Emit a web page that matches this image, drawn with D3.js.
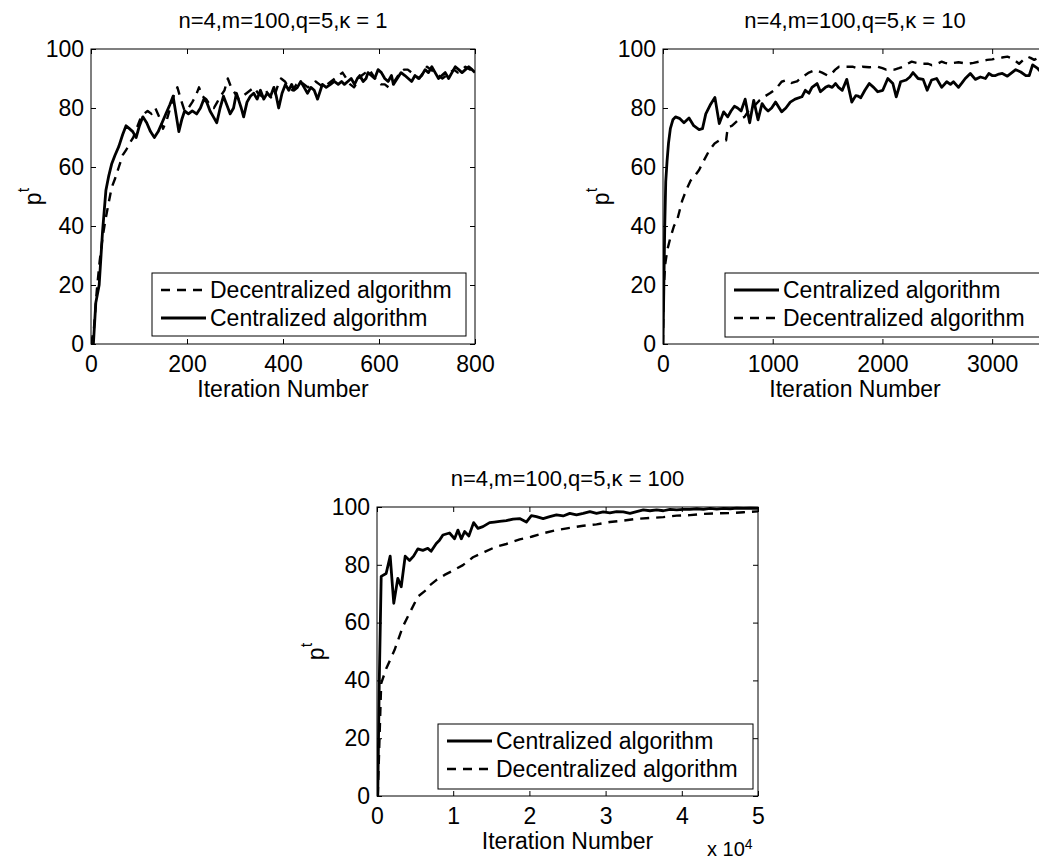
<!DOCTYPE html>
<html>
<head>
<meta charset="utf-8">
<script src="https://cdn.jsdelivr.net/npm/d3@7"></script>
<style>
  body { margin: 0; background: #fff; }
  .tick line { stroke: #000; }
  text { font-family: "Liberation Sans", Arial, Helvetica, sans-serif; fill: #000; }
</style>
</head>
<body>
<div class="chart"></div>
<script>
// ---- data ----
// kappa = 1
var k1CentIter = [5,10,17,24,31,37,43,50,58,66,73,80,87,94,101,108,116,124,132,140,148,156,164,171,177,183,189,195,203,211,220,228,235,241,248,255,262,269,276,283,290,297,303,307,313,318,325,332,339,346,353,360,367,374,381,386,391,398,405,412,418,423,430,437,444,451,458,465,472,478,482,490,499,507,515,522,528,535,542,549,555,560,567,573,577,584,591,598,605,612,619,626,630,638,646,654,661,668,675,682,689,696,703,710,717,724,731,738,745,752,759,766,773,780,787,794,800];
var k1Central = [0,14,20,38,52,57,61,64,67,71,74,73,72,70,74,77,75,72,70,72,75,78,81,84,78,72,76,79,78,79,78,80,83,82,79,77,75,80,84,81,78,80,85,83,80,77,82,84,85,83,86,83,85,84,87,84,80,85,88,86,88,86,87,89,87,85,87,86,83,86,88,87,88,89,88,89,88,89,90,88,90,91,89,90,92,91,90,93,92,90,89,91,88,90,92,91,90,89,91,90,91,93,92,94,92,90,91,92,90,92,94,93,92,93,94,93,92];
var k1DecIter = [0,6,12,18,24,30,37,43,50,58,66,74,80,88,95,102,110,118,126,134,142,150,158,165,172,180,187,195,203,211,218,225,232,240,248,256,263,270,278,285,292,300,308,316,324,332,340,348,356,364,372,380,388,396,404,412,420,428,436,444,452,460,468,476,484,492,500,508,516,524,532,540,548,556,564,572,580,588,596,604,612,620,628,636,644,652,660,668,676,684,692,700,708,716,724,732,740,748,756,764,772,780,790,800];
var k1Decentral = [0,5,18,28,36,42,48,53,56,60,64,66,68,70,73,76,78,79,78,80,77,73,76,80,84,87,83,79,80,82,84,87,84,83,81,80,82,84,86,90,87,85,83,84,85,86,87,85,84,86,84,83,87,90,89,87,86,88,89,88,87,88,89,88,87,88,89,90,91,92,90,88,87,89,91,92,93,91,89,88,88,87,88,90,92,93,93,92,91,90,92,94,93,92,91,90,91,92,93,92,93,94,93,94];

// kappa = 10
var k10CentIter = [0,8,16,25,37,50,67,90,114,150,191,237,280,329,360,390,430,473,513,553,590,620,651,680,712,749,790,827,866,903,930,958,990,1026,1081,1120,1160,1204,1266,1297,1330,1358,1404,1435,1481,1510,1542,1573,1600,1634,1675,1721,1757,1780,1803,1840,1880,1920,1957,2003,2049,2095,2126,2166,2217,2250,2279,2325,2371,2408,2448,2494,2540,2586,2620,2647,2693,2725,2755,2801,2847,2893,2939,2970,3000,3031,3062,3093,3139,3180,3215,3261,3307,3338,3369,3415,3450,3500];
var k10Central = [0,20,40,55,62,68,73,76,77,76.5,75,76.6,74,72.7,73,78,81,83.6,74.7,78.7,77,79,80.6,80,79,83,75,82.6,76,81.5,80,79,80,82,78.7,80,82,83,83.8,86,85,87,88.3,85.5,87,87.5,87,88.3,87,86,89.7,82,84.2,84,83.5,86,88.3,87,85.5,86,90,88.3,83.8,88.9,89.5,90.5,92,90,89.7,86,89.5,90,87,88.9,88,88.9,87,88.5,90,91.7,89.7,90.5,90,91.7,91,91,91.5,91.7,90.8,92,93,92.2,91,91,94.6,93.4,92,93];
var k10DecIter = [0,5,20,40,67,100,129,150,175,210,252,290,329,370,421,470,513,550,575,590,630,682,743,805,840,880,930,974,1030,1081,1130,1173,1220,1270,1330,1389,1450,1500,1527,1570,1604,1660,1727,1770,1819,1880,1957,2000,2034,2070,2110,2150,2187,2230,2267,2310,2356,2417,2450,2479,2510,2540,2570,2601,2650,2693,2740,2785,2830,2878,2920,2954,3000,3046,3090,3139,3170,3200,3246,3290,3323,3350,3384,3420,3450,3500];
var k10Decentral = [0,18,27,32,36,40,42,45,48.6,52,55.4,57,59,62,65.6,68,69,69,69,73.4,74,75.8,77,80.4,81,82.6,84,85,86.5,88.9,89.5,88.5,89,90.5,92,92.9,92,91,91.2,93,94,94,94,93.5,94,93.8,94,93.5,93,93.2,93,93.5,94,95,95.7,95.3,95,95,94.5,94.6,95.2,95.7,95.3,95,95.3,95.5,95.2,95,95.3,95.7,96,96.3,96.5,96.9,97.1,97.4,97,96.3,95,96.5,97.4,97,96.3,97,97,97];

// kappa = 100
var k100CentIter = [100,300,550,1200,1730,2200,2730,3180,3700,4270,4800,5360,6020,6670,7100,7780,8200,8650,9520,10180,10620,11060,11500,12060,12680,13250,13900,14780,15400,16090,16970,17850,18720,19600,20260,20920,21800,22670,23550,24430,25300,26180,27060,27940,28810,29690,30560,31440,32320,33200,34070,34950,35820,36700,37580,38450,39330,40200,41080,41960,42840,43710,44590,45470,46340,47220,48100,49000,50000];
var k100Central = [0,40,76,77,83,66.7,75.3,72.4,83,81.5,83,85.5,85,85.7,84.7,87.4,88.5,90.3,91,89,92,89,91.5,90,94.6,92.6,93.2,94.6,94.8,95,95.3,95.8,96,94.8,97,96.7,96,96.7,97.3,96.9,97.8,97.3,97.8,98.4,97.8,98.3,98,98.4,98.3,97.8,98.4,99,98.7,99,98.7,99.2,99,99.2,99.2,99.4,99.2,99.5,99.3,99.5,99.4,99.6,99.5,99.6,99.5];
var k100DecIter = [100,550,1200,2300,3390,4490,5370,6470,6690,7780,8870,9960,11280,12590,14130,15660,16980,18730,20260,21800,23550,25300,27060,28810,30560,32320,34070,35820,37580,39330,41080,42840,44590,46340,48100,50000];
var k100Decentral = [0,39,44,50.5,58.6,64.4,69,71.3,72.4,74.7,76.5,78,79.9,82.6,84.5,86.3,87.2,88.8,89.7,90.9,92,92.8,93.5,94,94.8,95.3,95.9,96.2,96.5,97,97.2,97.6,97.8,97.9,98.2,98.5];

var yTicks = [0, 20, 40, 60, 80, 100];

// ---- page ----
var svgWidth = 1039;
var svgHeight = 863;

var svg = d3.select(".chart")
  .append("svg")
  .attr("width", svgWidth)
  .attr("height", svgHeight);

svg.append("rect")
  .attr("width", svgWidth)
  .attr("height", svgHeight)
  .attr("fill", "#fff");

var panels = [
  {
    id: "p1", left: 91, right: 475, top: 49, bottom: 344,
    xMax: 800, xTicks: [0, 200, 400, 600, 800], fmt: d => d,
    title: "n=4,m=100,q=5,\u03ba = 1",
    series: [
      { name: "Decentralized algorithm", x: k1DecIter, y: k1Decentral, dash: true },
      { name: "Centralized algorithm", x: k1CentIter, y: k1Central, dash: false }
    ],
    legend: { x: 152, y: 273, w: 314, h: 63 },
    ylabelX: 33
  },
  {
    id: "p2", left: 663, right: 1047, top: 49, bottom: 344,
    xMax: 3500, xTicks: [0, 1000, 2000, 3000], fmt: d => d,
    title: "n=4,m=100,q=5,\u03ba = 10",
    series: [
      { name: "Centralized algorithm", x: k10CentIter, y: k10Central, dash: false },
      { name: "Decentralized algorithm", x: k10DecIter, y: k10Decentral, dash: true }
    ],
    legend: { x: 725, y: 273, w: 315, h: 64 },
    ylabelX: 601
  },
  {
    id: "p3", left: 377, right: 758, top: 507, bottom: 796,
    xMax: 50000, xTicks: [0, 10000, 20000, 30000, 40000, 50000], fmt: d => d / 10000,
    title: "n=4,m=100,q=5,\u03ba = 100",
    series: [
      { name: "Centralized algorithm", x: k100CentIter, y: k100Central, dash: false },
      { name: "Decentralized algorithm", x: k100DecIter, y: k100Decentral, dash: true }
    ],
    legend: { x: 438, y: 724, w: 315, h: 65 },
    ylabelX: 316
  }
];

function drawPanel(p) {
  var g = svg.append("g").attr("id", p.id);

  var xScale = d3.scaleLinear().domain([0, p.xMax]).range([p.left, p.right]);
  var yScale = d3.scaleLinear().domain([0, 100]).range([p.bottom, p.top]);

  // clip for the curves
  g.append("clipPath")
    .attr("id", "clip-" + p.id)
    .append("rect")
    .attr("x", p.left)
    .attr("y", p.top - 2)
    .attr("width", p.right - p.left)
    .attr("height", p.bottom - p.top + 2);

  // curves
  var line = d3.line()
    .x(d => xScale(d[0]))
    .y(d => yScale(d[1]));

  p.series.forEach(function(s) {
    var pts = s.x.map((v, i) => [v, s.y[i]]);
    g.append("path")
      .datum(pts)
      .attr("clip-path", "url(#clip-" + p.id + ")")
      .attr("fill", "none")
      .attr("stroke", "#000")
      .attr("stroke-width", s.dash ? 2.4 : 2.8)
      .attr("stroke-linejoin", "round")
      .attr("stroke-dasharray", s.dash ? "9,7" : null)
      .attr("d", line);
  });

  // axes, ticks pointing in
  var bottomAxis = d3.axisBottom(xScale).tickValues(p.xTicks).tickFormat(p.fmt)
    .tickSizeInner(-5).tickSizeOuter(0).tickPadding(12);
  var topAxis = d3.axisTop(xScale).tickValues(p.xTicks).tickFormat("")
    .tickSizeInner(-5).tickSizeOuter(0);
  var leftAxis = d3.axisLeft(yScale).tickValues(yTicks)
    .tickSizeInner(-5).tickSizeOuter(0).tickPadding(7);
  var rightAxis = d3.axisRight(yScale).tickValues(yTicks).tickFormat("")
    .tickSizeInner(-5).tickSizeOuter(0);

  g.append("g").attr("transform", `translate(0, ${p.bottom})`).call(bottomAxis);
  g.append("g").attr("transform", `translate(0, ${p.top})`).call(topAxis);
  g.append("g").attr("transform", `translate(${p.left}, 0)`).call(leftAxis);
  g.append("g").attr("transform", `translate(${p.right}, 0)`).call(rightAxis);

  g.selectAll(".domain").remove();
  g.selectAll(".tick text")
    .attr("font-family", null)
    .style("font-size", "23px");

  // axes box
  g.append("rect")
    .attr("x", p.left)
    .attr("y", p.top)
    .attr("width", p.right - p.left)
    .attr("height", p.bottom - p.top)
    .attr("fill", "none")
    .attr("stroke", "#000")
    .attr("stroke-width", 1);

  // title
  g.append("text")
    .attr("x", (p.left + p.right) / 2)
    .attr("y", p.top - 21)
    .attr("text-anchor", "middle")
    .style("font-size", "22px")
    .text(p.title);

  // x label
  g.append("text")
    .attr("x", (p.left + p.right) / 2)
    .attr("y", p.bottom + 53)
    .attr("text-anchor", "middle")
    .style("font-size", "23px")
    .text("Iteration Number");

  // y label p^t
  var yl = g.append("text")
    .attr("transform", `translate(${p.ylabelX + 8}, ${(p.top + p.bottom) / 2}) rotate(-90)`)
    .attr("text-anchor", "middle")
    .style("font-size", "23px");
  yl.append("tspan").text("p");
  yl.append("tspan").attr("dy", "-0.75em").style("font-size", "16px").text("t");

  // legend
  var lg = p.legend;
  g.append("rect")
    .attr("x", lg.x)
    .attr("y", lg.y)
    .attr("width", lg.w)
    .attr("height", lg.h)
    .attr("fill", "#fff")
    .attr("stroke", "#000")
    .attr("stroke-width", 1);

  p.series.forEach(function(s, i) {
    var ry = lg.y + 17 + i * 28;
    g.append("line")
      .attr("x1", lg.x + 9)
      .attr("x2", lg.x + 54)
      .attr("y1", ry)
      .attr("y2", ry)
      .attr("stroke", "#000")
      .attr("stroke-width", s.dash ? 2.4 : 2.8)
      .attr("stroke-dasharray", s.dash ? "9,7" : null);
    g.append("text")
      .attr("x", lg.x + 58)
      .attr("y", ry + 8)
      .style("font-size", "23px")
      .text(s.name);
  });

  return g;
}

panels.forEach(drawPanel);

// exponent under the third panel
var expo = svg.append("text")
  .attr("x", 707)
  .attr("y", 856)
  .style("font-size", "20px");
expo.append("tspan").text("x 10");
expo.append("tspan").attr("dy", "-0.5em").style("font-size", "14px").text("4");
</script>
</body>
</html>
